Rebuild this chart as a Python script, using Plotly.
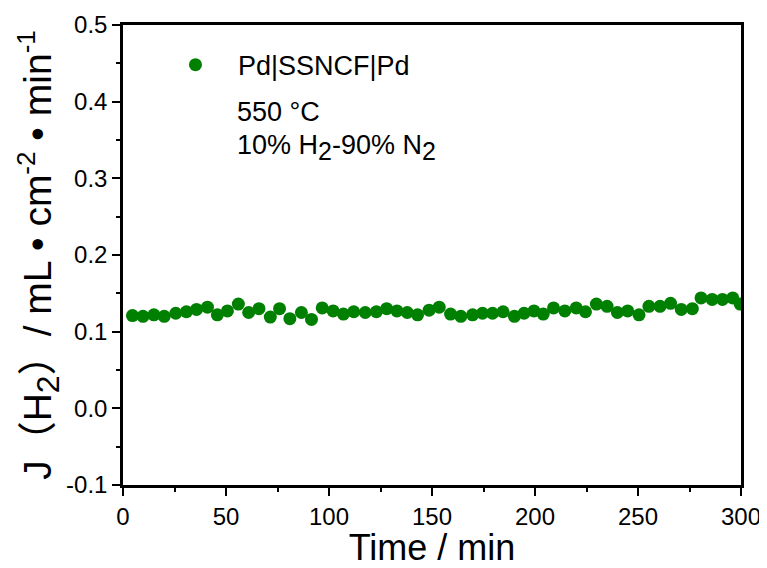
import plotly.graph_objects as go

time_min = [4.6, 9.7, 15, 20, 25.6, 30.8, 35.7, 41, 45.8, 50.7, 56, 61, 66, 71.5, 76, 81, 86.6, 91.5, 96.7,
            102, 107, 112, 117.6, 123, 128, 133, 138, 143, 148.6, 153.5, 159, 164, 169.7, 174.5, 179.4, 184.5, 190, 194.7, 199.5,
            204, 209, 214.5, 220, 224.5, 229.8, 235, 240, 245, 250.5, 255.3, 260.7, 265.8, 271, 276.4, 280.6, 286, 291, 296, 299.6]
flux = [0.121, 0.120, 0.122, 0.120, 0.124, 0.126, 0.129, 0.132, 0.122, 0.127, 0.136, 0.125, 0.130, 0.119, 0.130, 0.117, 0.125, 0.116, 0.131,
        0.127, 0.123, 0.126, 0.125, 0.126, 0.130, 0.127, 0.125, 0.122, 0.128, 0.132, 0.123, 0.120, 0.122, 0.124, 0.124, 0.126, 0.120, 0.124, 0.127,
        0.123, 0.131, 0.127, 0.131, 0.126, 0.136, 0.133, 0.125, 0.127, 0.122, 0.133, 0.133, 0.137, 0.129, 0.130, 0.144, 0.142, 0.142, 0.144, 0.136]

series_name = "Pd|SSNCF|Pd"
x_ticks = [0, 50, 100, 150, 200, 250, 300]
y_ticks = [-0.1, 0.0, 0.1, 0.2, 0.3, 0.4, 0.5]
y_tick_labels = ["-0.1", "0.0", "0.1", "0.2", "0.3", "0.4", "0.5"]

FONT = "Arial, Liberation Sans, Noto Sans CJK SC, sans-serif"

fig = go.Figure()
fig.add_trace(go.Scatter(
    x=time_min, y=flux, mode="markers", name=series_name,
    marker=dict(color="#008000", size=13, line=dict(width=0)),
    cliponaxis=True,
))

axis_common = dict(
    showline=True, linecolor="black", linewidth=2.5, mirror=True,
    ticks="outside", ticklen=8, tickwidth=2, tickcolor="black",
    showgrid=False, zeroline=False, automargin=False,
    tickfont=dict(family=FONT, size=24, color="black"),
)

def sized(s, px):
    return "<span style='font-size:%dpx'>%s</span>" % (px, s)

y_title = ("J（H<sub>%s</sub>）/ mL • cm<sup>%s</sup> • min<sup>%s</sup>"
           % (sized("2", 32), sized("-2", 26), sized("-1", 26)))

fig.update_layout(
    width=759, height=560,
    margin=dict(l=115, r=26, t=17, b=83, autoexpand=False),
    paper_bgcolor="white", plot_bgcolor="white",
    font=dict(family=FONT, color="black"),
    xaxis=dict(range=[0, 300], tickvals=x_ticks,
               minor=dict(dtick=25, tick0=0, ticks="outside", ticklen=4, tickwidth=2, tickcolor="black"),
               title=dict(text="Time / min", font=dict(family=FONT, size=36), standoff=2),
               **axis_common),
    yaxis=dict(range=[-0.1, 0.5], tickvals=y_ticks, ticktext=y_tick_labels,
               minor=dict(dtick=0.05, tick0=0, ticks="outside", ticklen=4, tickwidth=2, tickcolor="black"),
               title=dict(text=y_title, font=dict(family=FONT, size=39), standoff=2),
               **axis_common),
    showlegend=True,
    legend=dict(x=0.0485, y=0.966, xanchor="left", yanchor="top",
                bgcolor="rgba(0,0,0,0)", font=dict(family=FONT, size=27),
                itemwidth=75),
)

fig.add_annotation(xref="paper", yref="paper", x=0.181, y=0.81, xanchor="left", yanchor="middle",
                   text="550 °C", showarrow=False, font=dict(family=FONT, size=27))
fig.add_annotation(xref="paper", yref="paper", x=0.181, y=0.733, xanchor="left", yanchor="middle",
                   text="10% H<sub>" + sized("2", 25) + "</sub>-90% N<sub>" + sized("2", 25) + "</sub>",
                   showarrow=False, font=dict(family=FONT, size=27))

fig.write_html("out.html")
